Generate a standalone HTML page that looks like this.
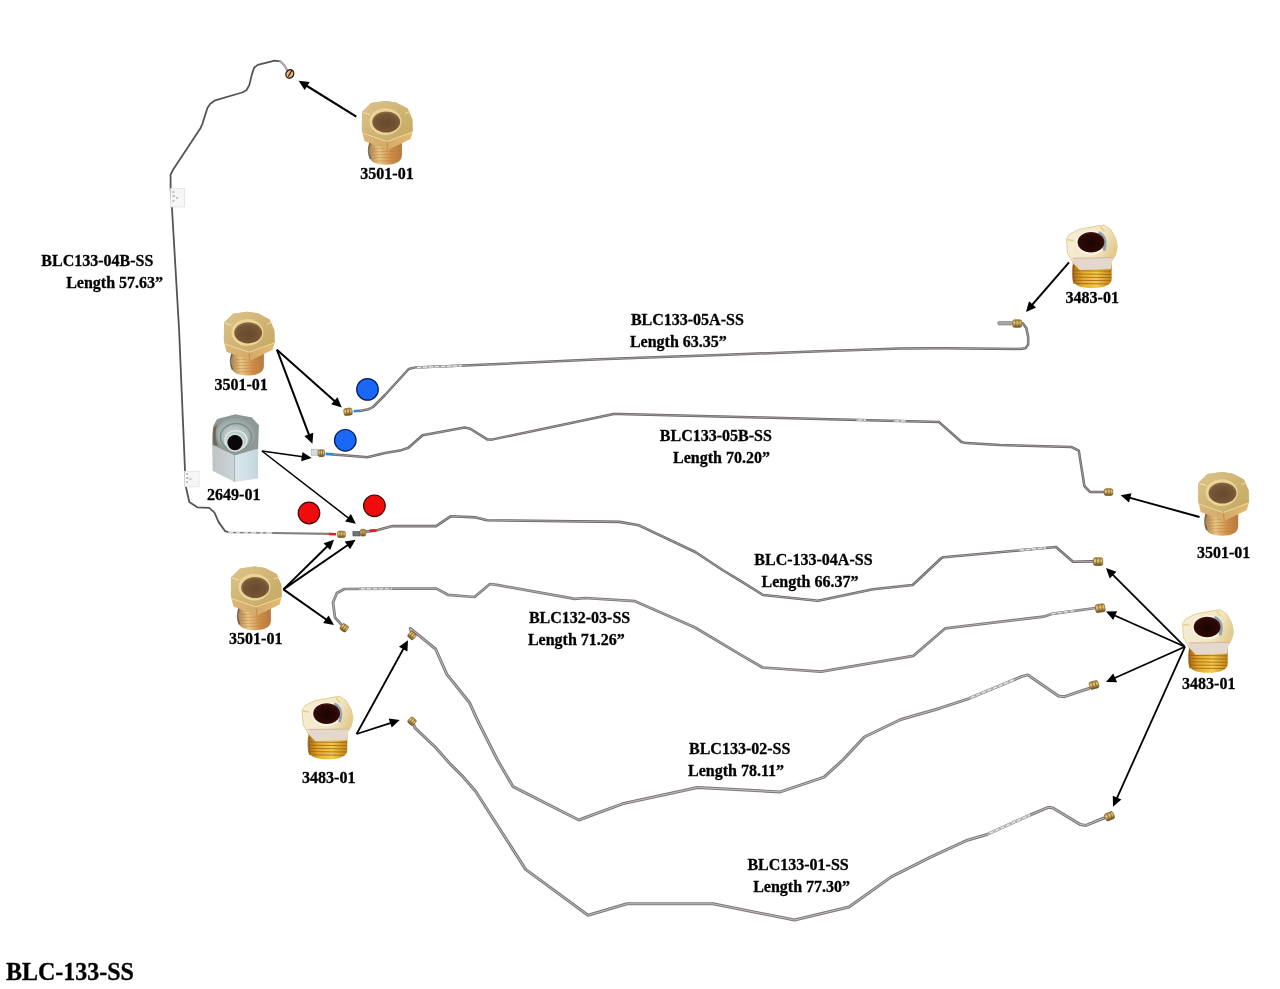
<!DOCTYPE html><html><head><meta charset="utf-8"><style>html,body{margin:0;padding:0;background:#fff;}svg{display:block;will-change:transform}text{font-family:"Liberation Serif",serif;font-weight:bold;fill:#000;stroke:#000;stroke-width:0.3px}</style></head><body>
<svg width="1280" height="989" viewBox="0 0 1280 989">
<defs>
<linearGradient id="thr1" x1="0" x2="1" y1="0" y2="0"><stop offset="0" stop-color="#b08048"/><stop offset="0.3" stop-color="#e8c888"/><stop offset="0.65" stop-color="#d09048"/><stop offset="1" stop-color="#b87840"/></linearGradient>
<linearGradient id="hex1" x1="0" x2="1" y1="0" y2="1"><stop offset="0" stop-color="#dcc68c"/><stop offset="0.5" stop-color="#cfb474"/><stop offset="1" stop-color="#c4a862"/></linearGradient>
<linearGradient id="side1" x1="0" x2="1" y1="0" y2="0"><stop offset="0" stop-color="#dab878"/><stop offset="0.5" stop-color="#d4aa68"/><stop offset="1" stop-color="#e2bc72"/></linearGradient>
<radialGradient id="hole1" cx="0.5" cy="0.55" r="0.55"><stop offset="0" stop-color="#664a2c"/><stop offset="0.75" stop-color="#745636"/><stop offset="1" stop-color="#8c7046"/></radialGradient>
<linearGradient id="thr2" x1="0" x2="1" y1="0" y2="0"><stop offset="0" stop-color="#a86a12"/><stop offset="0.25" stop-color="#e4aa2c"/><stop offset="0.6" stop-color="#f4cc4c"/><stop offset="1" stop-color="#c08418"/></linearGradient>
<linearGradient id="hex2" x1="0" x2="1" y1="0" y2="0.4"><stop offset="0" stop-color="#f6eed6"/><stop offset="0.7" stop-color="#f2e6c6"/><stop offset="1" stop-color="#e2cc90"/></linearGradient>
<radialGradient id="hole2" cx="0.5" cy="0.55" r="0.55"><stop offset="0" stop-color="#1a0402"/><stop offset="0.8" stop-color="#2e0a06"/><stop offset="1" stop-color="#4a1a10"/></radialGradient>
<linearGradient id="nutg" x1="0" x2="0" y1="0" y2="1"><stop offset="0" stop-color="#b88c3c"/><stop offset="0.4" stop-color="#e8cc80"/><stop offset="1" stop-color="#6a4a18"/></linearGradient>
<symbol id="f3501" viewBox="0 0 52 64" overflow="visible">
 <path d="M7.3,38 L39.9,38 L39.9,54 C39.9,61 33,63.7 23.6,63.7 C14.2,63.7 7.3,61 7.3,54 Z" fill="url(#thr1)"/>
 <path d="M8,42 Q5,50 8.5,58" fill="none" stroke="#5e5448" stroke-width="1.6" opacity="0.85"/>
 <g stroke="#b87a40" stroke-width="0.8" opacity="0.55"><line x1="10" y1="48" x2="39.5" y2="47"/><line x1="10" y1="51" x2="39.5" y2="50"/><line x1="10" y1="54" x2="39.5" y2="53"/><line x1="10.5" y1="57" x2="38.5" y2="56"/><line x1="14" y1="60" x2="34" y2="59.5"/></g>
 <polygon points="0,11 9,2 23.6,0 34,1.5 45.6,7.6 50.3,18.2 50.9,29.6 48.6,38 26,49 2.4,40 -0.2,29" fill="url(#side1)"/>
 <polygon points="0,11 9,2 23.6,0 34,1.5 45.6,7.6 50.3,18.2 50.5,31 25,40.5 0.5,32" fill="url(#hex1)"/>
 <path d="M0.5,32 L25,40.5 L50.5,31" fill="none" stroke="#f2d898" stroke-width="1"/>
 <path d="M1,11.5 L8,13.5 M43,12.5 L49,10" stroke="#f4e4b0" stroke-width="0.9"/>
 <line x1="25" y1="40.5" x2="26" y2="49" stroke="#b08448" stroke-width="0.7"/>
 <ellipse cx="23.4" cy="20.6" rx="16" ry="13.4" fill="#eed494"/>
 <ellipse cx="24.2" cy="21" rx="14" ry="10.6" fill="url(#hole1)"/>
</symbol>
<symbol id="f3483" viewBox="0 0 52 63" overflow="visible">
 <path d="M6.4,34 L45.3,34 L45.3,53 C45.3,60 36,62.3 25.8,62.3 C15.6,62.3 6.4,60 6.4,53 Z" fill="url(#thr2)"/>
 <g stroke="#9a5c10" stroke-width="1" opacity="0.75"><line x1="7" y1="45" x2="44.8" y2="45.5"/><line x1="7" y1="48.2" x2="44.8" y2="48.7"/><line x1="7" y1="51.4" x2="44.8" y2="51.9"/><line x1="7.2" y1="54.6" x2="44.6" y2="55"/><line x1="9.5" y1="57.8" x2="42.5" y2="58.2"/></g>
 <path d="M7,40 Q5.5,50 8,58" fill="none" stroke="#8a5410" stroke-width="2" opacity="0.6"/>
 <polygon points="0.1,13.3 3,8.5 12.6,3.7 32.8,-0.1 37.6,-0.6 44.3,3.7 49.1,12.3 51,21 49.1,29.6 45.3,35.4 44.3,43.1 13.6,44.1 6.9,37.3 1.1,27.7" fill="url(#hex2)" stroke="#e0c47c" stroke-width="0.8"/>
 <polygon points="6.3,32.5 46.5,32 44.3,43.1 13.6,44.1 6.9,37.3" fill="#e4d8cc"/>
 <path d="M6.3,32.5 L46.5,32" stroke="#c8b494" stroke-width="0.8"/>
 <path d="M0.8,14 L7,15 M34,1 L38,5.5" stroke="#e8cc70" stroke-width="1.3"/>
 <ellipse cx="24.8" cy="16.8" rx="15.2" ry="12" fill="#fbf6e6"/>
 <path d="M32,7 Q41.5,11 37.5,25" fill="none" stroke="#8ea2b2" stroke-width="3"/>
 <ellipse cx="24.6" cy="16.6" rx="13.4" ry="10.3" fill="url(#hole2)"/>
</symbol>
</defs>
<path d="M289.5,74.1 L284.6,65.6 L280.3,61.3 L274.7,60.6 L257.7,64.9 L254.1,67.7 L252.0,74.1 L249.2,85.4 L246.4,90.3 L242.1,92.5 L215.2,100.3 L210.3,103.8 L207.4,108.0 L202.5,123.6 L200.3,128.6 L172.7,170.3 L170.6,174.6 L170.6,188.7 L171.5,200.0 L179.1,330.0 L185.0,470.0 L185.5,485.0 L186.6,490.0 L189.3,502.0 L197.3,507.3 L209.2,507.9 L214.5,512.6 L218.5,521.9 L225.2,531.2 L229.0,532.5" fill="none" stroke="#5a5252" stroke-width="1.8" stroke-linejoin="round" stroke-linecap="round" />
<path d="M280.3,61.3 L284.6,65.6 L287.5,70.5" fill="none" stroke="#b0acac" stroke-width="2.1" stroke-linejoin="round" stroke-linecap="round" />
<path d="M229.0,532.5 L273.0,533.0" fill="none" stroke="#d4d2d2" stroke-width="2.2" stroke-linejoin="round" stroke-linecap="round" />
<path d="M233,532.6 h3 M240,532.7 h4 M248,532.7 h3 M256,532.8 h4 M263,532.9 h3" stroke="#707070" stroke-width="1"/>
<path d="M273.0,533.0 L330.0,533.8" fill="none" stroke="#858080" stroke-width="2.2" stroke-linejoin="round" stroke-linecap="round" />
<line x1="329" y1="534" x2="336" y2="534.3" stroke="#e02020" stroke-width="2.6"/>
<g transform="translate(341.4,534.4) rotate(0)"><rect x="-4.0" y="-3.15" width="8" height="6.3" rx="1.8" fill="url(#nutg)" stroke="#6a4a18" stroke-width="0.6"/><line x1="-1.2000000000000002" y1="-2.55" x2="-1.2000000000000002" y2="2.55" stroke="#7a5418" stroke-width="0.7"/><line x1="1.5999999999999996" y1="-2.55" x2="1.5999999999999996" y2="2.55" stroke="#7a5418" stroke-width="0.7"/></g>
<path d="M359.5,410.9 L368.7,409.2 L373.0,407.0 L385.0,395.0 L408.7,369.0 L414.4,367.6 L470.0,365.3 L600.0,359.3 L640.0,357.8 L720.0,355.0 L820.0,351.3 L900.0,348.6 L943.8,348.3 L1020.0,348.9 L1025.5,348.2 L1028.2,344.6 L1028.2,337.3 L1026.4,328.2 L1022.8,323.2" fill="none" stroke="#6e6868" stroke-width="2.5" stroke-linejoin="round" stroke-linecap="round" />
<path d="M359.5,410.9 L368.7,409.2 L373.0,407.0 L385.0,395.0 L408.7,369.0 L414.4,367.6 L470.0,365.3 L600.0,359.3 L640.0,357.8 L720.0,355.0 L820.0,351.3 L900.0,348.6 L943.8,348.3 L1020.0,348.9 L1025.5,348.2 L1028.2,344.6 L1028.2,337.3 L1026.4,328.2 L1022.8,323.2" fill="none" stroke="#b4b0b0" stroke-width="0.7" stroke-linejoin="round" stroke-linecap="round" />
<path d="M415.0,367.6 L462.0,365.6" fill="none" stroke="#acacac" stroke-width="2.2" stroke-linecap="butt"/>
<path d="M415.0,367.6 L462.0,365.6" fill="none" stroke="#e6e6e6" stroke-width="1.1" stroke-linecap="butt"/>
<path d="M415.0,367.6 L462.0,365.6" fill="none" stroke="#7a7a7a" stroke-width="0.8" stroke-dasharray="2 4"/>
<line x1="353.5" y1="411.2" x2="359.5" y2="410.8" stroke="#2a8ad8" stroke-width="2.6"/>
<g transform="translate(348,411.8) rotate(-8)"><rect x="-4.1" y="-3.5" width="8.2" height="7" rx="1.8" fill="url(#nutg)" stroke="#6a4a18" stroke-width="0.6"/><line x1="-1.23" y1="-2.9" x2="-1.23" y2="2.9" stroke="#7a5418" stroke-width="0.7"/><line x1="1.6399999999999997" y1="-2.9" x2="1.6399999999999997" y2="2.9" stroke="#7a5418" stroke-width="0.7"/></g>
<rect x="997.7" y="321.4" width="15" height="3.6" rx="1.5" fill="#a8a8a8" stroke="#606060" stroke-width="0.5"/>
<g transform="translate(1017.2,323.6) rotate(0)"><rect x="-4.5" y="-3.75" width="9" height="7.5" rx="1.8" fill="url(#nutg)" stroke="#6a4a18" stroke-width="0.6"/><line x1="-1.35" y1="-3.15" x2="-1.35" y2="3.15" stroke="#7a5418" stroke-width="0.7"/><line x1="1.7999999999999998" y1="-3.15" x2="1.7999999999999998" y2="3.15" stroke="#7a5418" stroke-width="0.7"/></g>
<path d="M333.3,454.5 L350.0,455.8 L367.3,457.3 L385.0,453.0 L400.0,450.6 L408.4,447.8 L422.5,435.2 L464.7,427.6 L470.3,428.7 L487.2,439.4 L492.8,439.4 L613.7,414.0 L619.3,414.0 L760.0,417.4 L840.0,419.4 L938.8,421.9 L961.5,442.0 L966.2,443.1 L1000.0,445.0 L1071.2,446.9 L1078.8,450.6 L1084.4,486.2 L1090.0,491.9 L1105.0,491.9" fill="none" stroke="#6a6464" stroke-width="2.5" stroke-linejoin="round" stroke-linecap="round" />
<path d="M333.3,454.5 L350.0,455.8 L367.3,457.3 L385.0,453.0 L400.0,450.6 L408.4,447.8 L422.5,435.2 L464.7,427.6 L470.3,428.7 L487.2,439.4 L492.8,439.4 L613.7,414.0 L619.3,414.0 L760.0,417.4 L840.0,419.4 L938.8,421.9 L961.5,442.0 L966.2,443.1 L1000.0,445.0 L1071.2,446.9 L1078.8,450.6 L1084.4,486.2 L1090.0,491.9 L1105.0,491.9" fill="none" stroke="#b4b0b0" stroke-width="0.7" stroke-linejoin="round" stroke-linecap="round" />
<path d="M856.0,419.8 L866.0,420.1" fill="none" stroke="#acacac" stroke-width="2.2" stroke-linecap="butt"/>
<path d="M856.0,419.8 L866.0,420.1" fill="none" stroke="#e6e6e6" stroke-width="1.1" stroke-linecap="butt"/>
<path d="M856.0,419.8 L866.0,420.1" fill="none" stroke="#7a7a7a" stroke-width="0.8" stroke-dasharray="2 4"/>
<path d="M893.0,420.7 L906.0,421.1" fill="none" stroke="#acacac" stroke-width="2.2" stroke-linecap="butt"/>
<path d="M893.0,420.7 L906.0,421.1" fill="none" stroke="#e6e6e6" stroke-width="1.1" stroke-linecap="butt"/>
<path d="M893.0,420.7 L906.0,421.1" fill="none" stroke="#7a7a7a" stroke-width="0.8" stroke-dasharray="2 4"/>
<line x1="325.5" y1="453.8" x2="333.3" y2="454.3" stroke="#2a8ad8" stroke-width="2.8"/>
<rect x="311.4" y="449.2" width="6.7" height="6" fill="#d8dcdc" stroke="#9aa0a0" stroke-width="0.5"/>
<g transform="translate(321.3,453.2) rotate(0)"><rect x="-3.2" y="-3.45" width="6.4" height="6.9" rx="1.8" fill="url(#nutg)" stroke="#6a4a18" stroke-width="0.6"/><line x1="-0.9600000000000004" y1="-2.85" x2="-0.9600000000000004" y2="2.85" stroke="#7a5418" stroke-width="0.7"/><line x1="1.2799999999999994" y1="-2.85" x2="1.2799999999999994" y2="2.85" stroke="#7a5418" stroke-width="0.7"/></g>
<g transform="translate(1108.5,492.1) rotate(0)"><rect x="-4.25" y="-3.4" width="8.5" height="6.8" rx="1.8" fill="url(#nutg)" stroke="#6a4a18" stroke-width="0.6"/><line x1="-1.2750000000000004" y1="-2.8" x2="-1.2750000000000004" y2="2.8" stroke="#7a5418" stroke-width="0.7"/><line x1="1.6999999999999993" y1="-2.8" x2="1.6999999999999993" y2="2.8" stroke="#7a5418" stroke-width="0.7"/></g>
<path d="M365.8,531.6 L376.0,530.5 L392.5,526.1 L436.1,526.1 L450.6,516.3 L475.9,517.4 L487.2,520.2 L619.3,521.9 L639.0,525.3 L695.3,552.0 L722.5,570.0 L740.0,580.6 L763.1,595.0 L818.0,600.8 L873.0,589.3 L912.7,585.0 L941.5,558.0 L943.5,557.3 L1047.7,547.7 L1056.0,547.0 L1073.0,561.7 L1092.7,561.4" fill="none" stroke="#6a6464" stroke-width="2.6" stroke-linejoin="round" stroke-linecap="round" />
<path d="M365.8,531.6 L376.0,530.5 L392.5,526.1 L436.1,526.1 L450.6,516.3 L475.9,517.4 L487.2,520.2 L619.3,521.9 L639.0,525.3 L695.3,552.0 L722.5,570.0 L740.0,580.6 L763.1,595.0 L818.0,600.8 L873.0,589.3 L912.7,585.0 L941.5,558.0 L943.5,557.3 L1047.7,547.7 L1056.0,547.0 L1073.0,561.7 L1092.7,561.4" fill="none" stroke="#b8b4b4" stroke-width="0.8" stroke-linejoin="round" stroke-linecap="round" />
<path d="M1018.0,550.4 L1046.0,547.9" fill="none" stroke="#acacac" stroke-width="2.2" stroke-linecap="butt"/>
<path d="M1018.0,550.4 L1046.0,547.9" fill="none" stroke="#e6e6e6" stroke-width="1.1" stroke-linecap="butt"/>
<path d="M1018.0,550.4 L1046.0,547.9" fill="none" stroke="#7a7a7a" stroke-width="0.8" stroke-dasharray="2 4"/>
<line x1="369.5" y1="530.8" x2="376.5" y2="530.3" stroke="#e02020" stroke-width="2.8"/>
<rect x="352.9" y="531.4" width="7" height="4.6" fill="#707478" stroke="#404448" stroke-width="0.5"/>
<g transform="translate(363,532.7) rotate(0)"><rect x="-2.75" y="-3.4" width="5.5" height="6.8" rx="1.8" fill="url(#nutg)" stroke="#6a4a18" stroke-width="0.6"/><line x1="-0.8250000000000002" y1="-2.8" x2="-0.8250000000000002" y2="2.8" stroke="#7a5418" stroke-width="0.7"/><line x1="1.0999999999999996" y1="-2.8" x2="1.0999999999999996" y2="2.8" stroke="#7a5418" stroke-width="0.7"/></g>
<g transform="translate(1098.1,561.6) rotate(0)"><rect x="-4.65" y="-3.85" width="9.3" height="7.7" rx="1.8" fill="url(#nutg)" stroke="#6a4a18" stroke-width="0.6"/><line x1="-1.3950000000000005" y1="-3.25" x2="-1.3950000000000005" y2="3.25" stroke="#7a5418" stroke-width="0.7"/><line x1="1.8599999999999994" y1="-3.25" x2="1.8599999999999994" y2="3.25" stroke="#7a5418" stroke-width="0.7"/></g>
<path d="M344.4,627.8 L335.0,617.5 L333.0,602.5 L336.9,593.0 L344.4,589.0 L400.0,588.6 L436.6,588.6 L447.8,594.8 L474.5,597.0 L490.0,584.0 L498.4,585.2 L575.0,598.8 L585.0,598.0 L635.0,601.2 L695.0,627.5 L740.0,654.3 L762.5,667.5 L821.0,671.7 L913.5,655.8 L945.3,628.3 L1043.6,616.7 L1052.2,613.8 L1095.6,608.0" fill="none" stroke="#7a7474" stroke-width="2.7" stroke-linejoin="round" stroke-linecap="round" />
<path d="M344.4,627.8 L335.0,617.5 L333.0,602.5 L336.9,593.0 L344.4,589.0 L400.0,588.6 L436.6,588.6 L447.8,594.8 L474.5,597.0 L490.0,584.0 L498.4,585.2 L575.0,598.8 L585.0,598.0 L635.0,601.2 L695.0,627.5 L740.0,654.3 L762.5,667.5 L821.0,671.7 L913.5,655.8 L945.3,628.3 L1043.6,616.7 L1052.2,613.8 L1095.6,608.0" fill="none" stroke="#bcb8b8" stroke-width="0.9" stroke-linejoin="round" stroke-linecap="round" />
<path d="M359.0,588.9 L392.0,588.7" fill="none" stroke="#acacac" stroke-width="2.2" stroke-linecap="butt"/>
<path d="M359.0,588.9 L392.0,588.7" fill="none" stroke="#e6e6e6" stroke-width="1.1" stroke-linecap="butt"/>
<path d="M359.0,588.9 L392.0,588.7" fill="none" stroke="#7a7a7a" stroke-width="0.8" stroke-dasharray="2 4"/>
<path d="M1050.0,614.5 L1052.2,613.8 L1075.0,610.8" fill="none" stroke="#acacac" stroke-width="2.2" stroke-linecap="butt"/>
<path d="M1050.0,614.5 L1052.2,613.8 L1075.0,610.8" fill="none" stroke="#e6e6e6" stroke-width="1.1" stroke-linecap="butt"/>
<path d="M1050.0,614.5 L1052.2,613.8 L1075.0,610.8" fill="none" stroke="#7a7a7a" stroke-width="0.8" stroke-dasharray="2 4"/>
<g transform="translate(344.2,627.8) rotate(35)"><rect x="-3.5" y="-3.5" width="7" height="7" rx="1.8" fill="url(#nutg)" stroke="#6a4a18" stroke-width="0.6"/><line x1="-1.0500000000000003" y1="-2.9" x2="-1.0500000000000003" y2="2.9" stroke="#7a5418" stroke-width="0.7"/><line x1="1.3999999999999995" y1="-2.9" x2="1.3999999999999995" y2="2.9" stroke="#7a5418" stroke-width="0.7"/></g>
<g transform="translate(1100.2,608.2) rotate(-8)"><rect x="-4.65" y="-4.0" width="9.3" height="8" rx="1.8" fill="url(#nutg)" stroke="#6a4a18" stroke-width="0.6"/><line x1="-1.3950000000000005" y1="-3.4" x2="-1.3950000000000005" y2="3.4" stroke="#7a5418" stroke-width="0.7"/><line x1="1.8599999999999994" y1="-3.4" x2="1.8599999999999994" y2="3.4" stroke="#7a5418" stroke-width="0.7"/></g>
<path d="M412.2,634.0 L410.3,628.4 L435.6,649.0 L446.9,674.4 L469.4,702.5 L478.8,723.0 L497.5,760.0 L513.0,786.6 L578.8,820.0 L622.5,803.8 L697.5,787.5 L780.3,791.9 L824.0,777.2 L842.8,760.0 L864.3,737.0 L900.7,719.5 L940.0,708.2 L967.4,699.1 L1022.0,676.4 L1028.0,674.9 L1058.4,696.1 L1064.4,696.7 L1088.7,688.5" fill="none" stroke="#7e7878" stroke-width="3.0" stroke-linejoin="round" stroke-linecap="round" />
<path d="M412.2,634.0 L410.3,628.4 L435.6,649.0 L446.9,674.4 L469.4,702.5 L478.8,723.0 L497.5,760.0 L513.0,786.6 L578.8,820.0 L622.5,803.8 L697.5,787.5 L780.3,791.9 L824.0,777.2 L842.8,760.0 L864.3,737.0 L900.7,719.5 L940.0,708.2 L967.4,699.1 L1022.0,676.4 L1028.0,674.9 L1058.4,696.1 L1064.4,696.7 L1088.7,688.5" fill="none" stroke="#c4c0c0" stroke-width="1.0" stroke-linejoin="round" stroke-linecap="round" />
<path d="M969.0,698.4 L1014.0,679.7" fill="none" stroke="#acacac" stroke-width="2.6" stroke-linecap="butt"/>
<path d="M969.0,698.4 L1014.0,679.7" fill="none" stroke="#e6e6e6" stroke-width="1.5" stroke-linecap="butt"/>
<path d="M969.0,698.4 L1014.0,679.7" fill="none" stroke="#7a7a7a" stroke-width="0.8" stroke-dasharray="2 4"/>
<g transform="translate(412,635.5) rotate(40)"><rect x="-3.5" y="-3.5" width="7" height="7" rx="1.8" fill="url(#nutg)" stroke="#6a4a18" stroke-width="0.6"/><line x1="-1.0500000000000003" y1="-2.9" x2="-1.0500000000000003" y2="2.9" stroke="#7a5418" stroke-width="0.7"/><line x1="1.3999999999999995" y1="-2.9" x2="1.3999999999999995" y2="2.9" stroke="#7a5418" stroke-width="0.7"/></g>
<g transform="translate(1094,685) rotate(-15)"><rect x="-4.5" y="-3.75" width="9" height="7.5" rx="1.8" fill="url(#nutg)" stroke="#6a4a18" stroke-width="0.6"/><line x1="-1.35" y1="-3.15" x2="-1.35" y2="3.15" stroke="#7a5418" stroke-width="0.7"/><line x1="1.7999999999999998" y1="-3.15" x2="1.7999999999999998" y2="3.15" stroke="#7a5418" stroke-width="0.7"/></g>
<path d="M412.2,721.2 L415.0,727.8 L435.6,747.5 L450.6,764.4 L461.9,775.6 L475.6,791.2 L525.6,869.4 L588.0,915.3 L627.0,903.8 L713.0,903.8 L794.4,920.0 L849.0,907.0 L891.6,876.6 L931.0,856.9 L967.4,840.2 L987.0,834.5 L1030.0,815.0 L1048.2,807.3 L1053.0,808.0 L1080.0,824.4 L1086.0,825.4 L1104.0,818.0" fill="none" stroke="#7e7878" stroke-width="3.0" stroke-linejoin="round" stroke-linecap="round" />
<path d="M412.2,721.2 L415.0,727.8 L435.6,747.5 L450.6,764.4 L461.9,775.6 L475.6,791.2 L525.6,869.4 L588.0,915.3 L627.0,903.8 L713.0,903.8 L794.4,920.0 L849.0,907.0 L891.6,876.6 L931.0,856.9 L967.4,840.2 L987.0,834.5 L1030.0,815.0 L1048.2,807.3 L1053.0,808.0 L1080.0,824.4 L1086.0,825.4 L1104.0,818.0" fill="none" stroke="#c4c0c0" stroke-width="1.0" stroke-linejoin="round" stroke-linecap="round" />
<path d="M988.0,834.0 L1030.0,815.0 L1030.0,815.0" fill="none" stroke="#acacac" stroke-width="2.6" stroke-linecap="butt"/>
<path d="M988.0,834.0 L1030.0,815.0 L1030.0,815.0" fill="none" stroke="#e6e6e6" stroke-width="1.5" stroke-linecap="butt"/>
<path d="M988.0,834.0 L1030.0,815.0 L1030.0,815.0" fill="none" stroke="#7a7a7a" stroke-width="0.8" stroke-dasharray="2 4"/>
<g transform="translate(412,721.3) rotate(40)"><rect x="-3.5" y="-3.5" width="7" height="7" rx="1.8" fill="url(#nutg)" stroke="#6a4a18" stroke-width="0.6"/><line x1="-1.0500000000000003" y1="-2.9" x2="-1.0500000000000003" y2="2.9" stroke="#7a5418" stroke-width="0.7"/><line x1="1.3999999999999995" y1="-2.9" x2="1.3999999999999995" y2="2.9" stroke="#7a5418" stroke-width="0.7"/></g>
<g transform="translate(1109.5,816.2) rotate(-22)"><rect x="-4.5" y="-3.75" width="9" height="7.5" rx="1.8" fill="url(#nutg)" stroke="#6a4a18" stroke-width="0.6"/><line x1="-1.35" y1="-3.15" x2="-1.35" y2="3.15" stroke="#7a5418" stroke-width="0.7"/><line x1="1.7999999999999998" y1="-3.15" x2="1.7999999999999998" y2="3.15" stroke="#7a5418" stroke-width="0.7"/></g>
<g transform="translate(289.8,73.9) rotate(30)"><ellipse rx="3.8" ry="4.4" fill="#e2bc84" stroke="#2a1608" stroke-width="1.3"/><line x1="0" y1="-4" x2="0" y2="3" stroke="#2a1608" stroke-width="1.2"/></g>
<rect x="170.6" y="188.6" width="14" height="18.4" fill="#f6f6f6" stroke="#dcdcdc" stroke-width="0.6"/><path d="M172.5,192 h2 M172.5,196 h2.5 M176,198 h2 M172.5,201 h2" stroke="#888" stroke-width="0.9"/>
<rect x="184.6" y="471.2" width="14.5" height="15.6" fill="#f6f6f6" stroke="#dcdcdc" stroke-width="0.6"/><path d="M186,474 h2 M186,478 h2.5 M189.5,479 h2 M186,482 h2" stroke="#888" stroke-width="0.9"/>
<use href="#f3501" x="362" y="101" width="52.00" height="64.00"/>
<use href="#f3501" x="224" y="311.8" width="52.00" height="64.00"/>
<use href="#f3501" x="231" y="566.5" width="52.00" height="64.00"/>
<use href="#f3501" x="1198.3" y="472" width="52.00" height="64.00"/>
<use href="#f3483" x="1066.4" y="225.7" width="52.00" height="63.00"/>
<use href="#f3483" x="1182.5" y="610.4" width="52.00" height="63.00"/>
<use href="#f3483" x="302" y="697" width="52.00" height="63.00"/>
<g>
<defs><radialGradient id="rec" cx="0.45" cy="0.55" r="0.6"><stop offset="0" stop-color="#d8e2e2"/><stop offset="0.5" stop-color="#acbcb8"/><stop offset="1" stop-color="#8a9894"/></radialGradient>
<linearGradient id="lf" x1="0" x2="1"><stop offset="0" stop-color="#bcc4c4"/><stop offset="1" stop-color="#ccd4d6"/></linearGradient>
<linearGradient id="rf" x1="0" x2="1"><stop offset="0" stop-color="#dae8ee"/><stop offset="1" stop-color="#c4d6dc"/></linearGradient></defs>
<polygon points="212.2,444.9 234.6,455.5 234.6,482 212.6,470.7" fill="url(#lf)"/>
<polygon points="234.6,455.5 258.1,448.7 258.1,478.3 234.6,482" fill="url(#rf)"/>
<polygon points="212.2,444.9 213.3,426 217.1,419.1 235.3,414.2 252,417.6 258.9,425.2 258.1,448.7 234.6,455.5" fill="#8e9896"/>
<path d="M213,428 Q212,440 213.5,445 L218,446 Q214,436 217,424 Z" fill="#6a5e4a" opacity="0.8"/>
<ellipse cx="236" cy="434" rx="19.5" ry="16.5" fill="url(#rec)"/>
<ellipse cx="236" cy="437" rx="15.5" ry="13.5" fill="none" stroke="#7e8c84" stroke-width="1.4"/>
<ellipse cx="236" cy="440" rx="12" ry="10.5" fill="#bccaca"/>
<ellipse cx="235.8" cy="440.5" rx="11" ry="9.8" fill="none" stroke="#e2e8e6" stroke-width="1.2"/>
<circle cx="235" cy="442.6" r="9.3" fill="#d4dcdc"/>
<circle cx="235" cy="442.6" r="7.6" fill="#080808"/>
<line x1="234.6" y1="455.5" x2="234.6" y2="482" stroke="#9aa0a0" stroke-width="0.8"/>
</g>
<circle cx="367.5" cy="389.4" r="10.8" fill="#1a69f6" stroke="#0a1a5a" stroke-width="1.2"/>
<circle cx="345.3" cy="440.3" r="10.8" fill="#1a69f6" stroke="#0a1a5a" stroke-width="1.2"/>
<circle cx="309" cy="513" r="10.8" fill="#f00c0c" stroke="#3a0808" stroke-width="1.2"/>
<circle cx="374.4" cy="505.8" r="10.8" fill="#f00c0c" stroke="#3a0808" stroke-width="1.2"/>
<line x1="356.3" y1="116.7" x2="306.2" y2="85.5" stroke="#000" stroke-width="2.1"/>
<polygon points="298.6,80.7 309.6,82.0 304.6,90.0" fill="#000"/>
<line x1="1069.0" y1="262.4" x2="1031.9" y2="305.2" stroke="#000" stroke-width="2.0"/>
<polygon points="1026.0,312.0 1029.0,301.3 1036.1,307.6" fill="#000"/>
<line x1="276.9" y1="349.7" x2="335.1" y2="401.4" stroke="#000" stroke-width="2.0"/>
<polygon points="341.8,407.4 331.2,404.3 337.5,397.2" fill="#000"/>
<line x1="276.9" y1="349.7" x2="309.2" y2="435.4" stroke="#000" stroke-width="2.0"/>
<polygon points="312.4,443.8 304.4,436.1 313.3,432.8" fill="#000"/>
<line x1="261.9" y1="451.0" x2="302.8" y2="456.7" stroke="#000" stroke-width="1.5"/>
<polygon points="311.7,458.0 301.1,461.3 302.5,451.9" fill="#000"/>
<line x1="261.9" y1="451.0" x2="348.8" y2="518.3" stroke="#000" stroke-width="1.5"/>
<polygon points="355.9,523.8 345.1,521.4 350.9,513.9" fill="#000"/>
<line x1="1199.5" y1="517.0" x2="1129.3" y2="497.6" stroke="#000" stroke-width="1.9"/>
<polygon points="1120.6,495.2 1131.5,493.3 1129.0,502.4" fill="#000"/>
<line x1="283.4" y1="589.4" x2="327.6" y2="546.0" stroke="#000" stroke-width="2.0"/>
<polygon points="334.0,539.7 330.2,550.1 323.5,543.3" fill="#000"/>
<line x1="283.4" y1="589.4" x2="348.2" y2="544.8" stroke="#000" stroke-width="2.0"/>
<polygon points="355.6,539.7 350.1,549.3 344.7,541.5" fill="#000"/>
<line x1="283.4" y1="589.4" x2="326.6" y2="619.8" stroke="#000" stroke-width="2.0"/>
<polygon points="334.0,625.0 323.1,623.1 328.6,615.4" fill="#000"/>
<line x1="356.6" y1="734.0" x2="403.7" y2="648.2" stroke="#000" stroke-width="1.8"/>
<polygon points="408.0,640.3 407.4,651.4 399.0,646.8" fill="#000"/>
<line x1="356.6" y1="734.0" x2="391.1" y2="722.8" stroke="#000" stroke-width="1.8"/>
<polygon points="399.7,720.0 391.7,727.6 388.7,718.6" fill="#000"/>
<line x1="1184.9" y1="646.8" x2="1112.4" y2="574.4" stroke="#000" stroke-width="1.8"/>
<polygon points="1106.0,568.0 1116.4,571.7 1109.7,578.4" fill="#000"/>
<line x1="1184.9" y1="646.8" x2="1114.2" y2="615.3" stroke="#000" stroke-width="1.8"/>
<polygon points="1106.0,611.6 1117.1,611.3 1113.2,620.0" fill="#000"/>
<line x1="1184.9" y1="646.8" x2="1114.2" y2="678.3" stroke="#000" stroke-width="1.8"/>
<polygon points="1106.0,682.0 1113.2,673.6 1117.1,682.3" fill="#000"/>
<line x1="1184.9" y1="646.8" x2="1116.7" y2="798.6" stroke="#000" stroke-width="1.8"/>
<polygon points="1113.0,806.8 1112.8,795.7 1121.4,799.6" fill="#000"/>
<text x="41.3" y="266.3" font-size="16">BLC133-04B-SS</text>
<text x="66.2" y="288.2" font-size="16">Length 57.63”</text>
<text x="360.3" y="178.9" font-size="16">3501-01</text>
<text x="1065.6" y="303" font-size="16">3483-01</text>
<text x="630.9" y="324.9" font-size="16">BLC133-05A-SS</text>
<text x="629.9" y="346.9" font-size="16">Length 63.35”</text>
<text x="214.5" y="389.9" font-size="16">3501-01</text>
<text x="207.1" y="499.6" font-size="16">2649-01</text>
<text x="659.8" y="441.1" font-size="16">BLC133-05B-SS</text>
<text x="673.1" y="462.7" font-size="16">Length 70.20”</text>
<text x="1196.9" y="557.6" font-size="16">3501-01</text>
<text x="754.3" y="564.9" font-size="16">BLC-133-04A-SS</text>
<text x="761.5" y="586.6" font-size="16">Length 66.37”</text>
<text x="229.1" y="644.4" font-size="16">3501-01</text>
<text x="528.9" y="622.8" font-size="16">BLC132-03-SS</text>
<text x="527.9" y="644.5" font-size="16">Length 71.26”</text>
<text x="1182.1" y="688.9" font-size="16">3483-01</text>
<text x="689" y="753.8" font-size="16">BLC133-02-SS</text>
<text x="688" y="775.7" font-size="16">Length 78.11”</text>
<text x="302.1" y="782.8" font-size="16">3483-01</text>
<text x="747.4" y="870.2" font-size="16">BLC133-01-SS</text>
<text x="753.2" y="891.9" font-size="16">Length 77.30”</text>
<text transform="translate(5.9,979.5) scale(1,1.06)" x="0" y="0" font-size="24">BLC-133-SS</text>
</svg></body></html>
